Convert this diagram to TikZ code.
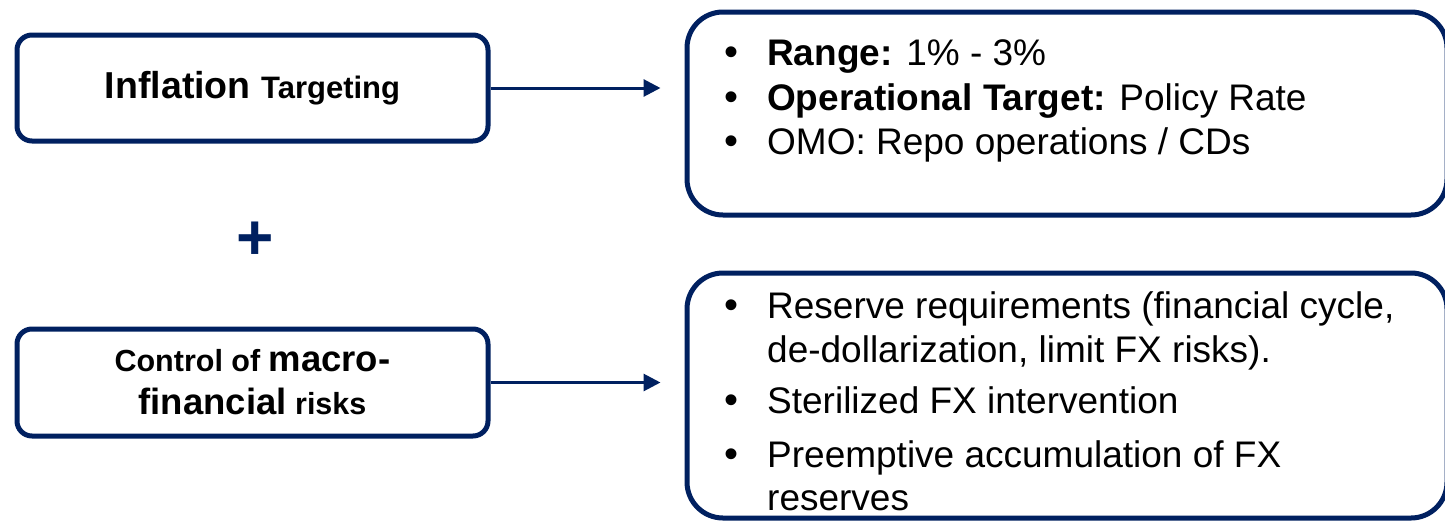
\documentclass[tikz,border=0pt]{standalone}
\usepackage{fontspec}
\setmainfont{Liberation Sans}
\usetikzlibrary{arrows.meta}
\definecolor{navy}{HTML}{002060}
\begin{document}
\begin{tikzpicture}[x=1pt,y=-1pt,
 lbox/.style={draw=navy,line width=5pt,rounded corners=15pt,minimum width=471pt,minimum height=106pt,inner sep=0pt,font=\bfseries},
 rbox/.style={draw=navy,line width=5pt,rounded corners=36pt,inner sep=0pt,minimum width=760pt},
 link/.style={draw=navy,line width=3pt,-{Triangle[length=17pt,width=17pt]},shorten >=24pt},
 item/.style={anchor=base west,inner sep=0pt,font=\fontsize{37}{44.5}\selectfont,align=left},
 dot/.style={anchor=base,inner sep=0pt,font=\fontsize{40}{40}\selectfont}]
\useasboundingbox (0,0) rectangle (1445,520);
% left boxes
\node[lbox] (lbox1) at (252.5,88) {\fontsize{37.5}{40}\selectfont Inflation \fontsize{31}{40}\selectfont Targeting};
\node[lbox,minimum height=107pt] (lbox2) at (252.5,382.5) {\parbox{440pt}{\centering\fontsize{30.5}{43}\selectfont Control of {\fontsize{36.5}{43}\selectfont macro-}\\{\fontsize{36.5}{43}\selectfont financial} risks\par}};
% plus
\node[text=navy,font=\fontsize{64}{64}\selectfont\bfseries,inner sep=0pt] (plus) at (255,241) {+};
% right boxes
\node[rbox,minimum height=203pt] (rbox1) at (1067,113.5) {};
\node[rbox,minimum height=245pt] (rbox2) at (1067,395.5) {};
% arrows
\draw[link] (lbox1.east) -- (lbox1.east -| rbox1.west);
\draw[link] (lbox2.east) -- (lbox2.east -| rbox2.west);
% items box 1
\node[dot] (b1) at (731,65) {•};
\node[item] (t1) at (767,65) {\textbf{Range:} 1\% - 3\%};
\node[dot] (b2) at (731,110) {•};
\node[item] (t2) at (767,110) {\textbf{Operational Target:} Policy Rate};
\node[dot] (b3) at (731,154) {•};
\node[item] (t3) at (767,154) {OMO: Repo operations / CDs};
% items box 2
\node[dot] (b4) at (731,318) {•};
\node[item] (t4) at (767,318) {Reserve requirements (financial cycle,};
\node[item] (t4b) at (767,362) {de-dollarization, limit FX risks).};
\node[dot] (b5) at (731,413) {•};
\node[item] (t5) at (767,413) {Sterilized FX intervention};
\node[dot] (b6) at (731,467) {•};
\node[item] (t6) at (767,467) {Preemptive accumulation of FX};
\node[item] (t6b) at (767,510) {reserves};
\end{tikzpicture}
\end{document}
